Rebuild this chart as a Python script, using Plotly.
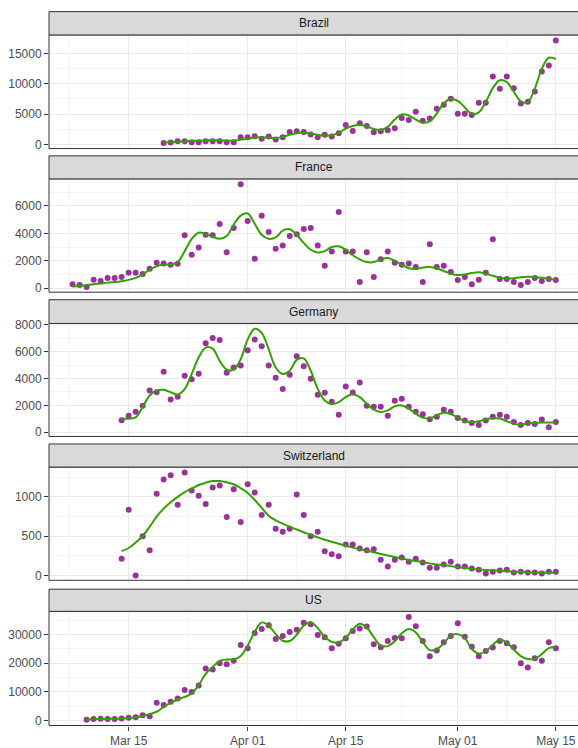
import pandas as pd
import plotly.graph_objects as go

# ---------------- data ----------------
countries = ["Brazil", "France", "Germany", "Switzerland", "US"]
start_dates = ["2020-03-20", "2020-03-07", "2020-03-14", "2020-03-14", "2020-03-09"]

brazil_cases = [220, 330, 545, 545, 380, 380, 545, 545, 545, 380, 380, 1200,
                1200, 1360, 930, 1300, 820, 1200, 2070, 2180, 2070, 1635, 1200, 1580, 1300, 1850,
                3215, 2235, 3490, 3050, 2015, 2180, 2345, 2670, 4360, 4030, 5400, 3925, 4300, 5890, 6540, 7520,
                5070, 5070, 4850, 6870, 6870, 11230, 9210, 11230, 9265, 6760, 7030, 8720, 12045, 13025, 17170]
brazil_smooth = [300, 380, 450, 520, 580, 620, 680, 700, 680, 620, 640, 800,
                 950, 1100, 1200, 1100, 1050, 1250, 1600, 1850, 1950, 1800, 1600, 1450, 1500, 1900,
                 2600, 3050, 3200, 2950, 2550, 2400, 2900, 4100, 4950, 4800, 4100, 3600, 3800, 5100, 6800, 7500,
                 7200, 6100, 5050, 5300, 7000, 9300, 10600, 10300, 8700, 7100, 7000, 9200, 12500, 14300, 14100]

france_cases = [290, 220, 75, 610, 510, 730, 730, 805, 1120, 1120, 1025, 1415, 1855, 1805, 1710, 1780,
                3855, 2440, 2975, 3900, 3855, 4685, 2610, 4390, 7580,
                4900, 2150, 5290, 4100, 2880, 3120, 3800, 3930, 4320, 4390, 3120, 1630, 2680, 5560, 2680,
                2680, 440, 2610, 805, 2100, 2680, 1855, 1710, 1805, 1540, 440, 3195, 1540, 1630, 1170,
                585, 805, 290, 610, 1120, 3560, 660, 660, 440, 220, 440, 730, 510, 660, 585]
france_smooth = [120, 150, 220, 280, 340, 400, 440, 500, 600, 750, 1000, 1350, 1600, 1720, 1720, 1900,
                 2700, 3600, 4050, 3950, 3750, 3600, 3800, 4650, 5300,
                 5450, 4700, 3900, 3600, 3700, 4200, 4300, 3900, 3300, 2800, 2600, 2700, 3000, 3050, 2800,
                 2400, 2100, 1900, 1900, 2100, 2200, 2000, 1700, 1450, 1400, 1500, 1550, 1450, 1250, 1050,
                 950, 1000, 1100, 1150, 1050, 900, 750, 700, 720, 800, 830, 800, 750, 680, 600]

germany_cases = [885, 1230, 1525, 1970, 3100, 2975, 4500, 2435, 2630, 4205, 3935, 4355, 6620, 7010, 6860,
                 4430, 4820, 4970,
                 6100, 6910, 6400, 4970, 4060, 3220, 4280, 5660, 4900, 3985, 2780, 2930, 2265, 1300, 3395,
                 2950, 3690, 1970, 1895, 1895, 1230, 2340, 2485, 1895, 1525, 1330, 960, 1155, 1670, 1525,
                 1060, 860, 690, 540, 860, 1155, 1300, 1155, 765, 540, 690, 615, 935, 370, 765]
germany_smooth = [1000, 1000, 1100, 1870, 2730, 3100, 3150, 2975, 2800, 3200, 4330, 5560, 6300, 6220, 5310,
                  4650, 4650, 5440,
                  6910, 7700, 7400, 6170, 4820, 4330, 4575, 5390, 5490, 4575, 3220, 2360, 2090, 2240, 2610,
                  2830, 2610, 2115, 1670, 1500, 1620, 1920, 1990, 1750, 1380, 1080, 1010, 1255, 1450, 1350,
                  1080, 810, 760, 810, 960, 1030, 1010, 810, 615, 565, 640, 690, 715, 715, 715]

switzerland_cases = [215, 835, 0, 500, 320, 1040, 1220, 1275, 900, 1310, 1080, 1015, 910, 1120, 1145,
                     745, 1095, 680,
                     1160, 1055, 770, 900, 595, 555, 595, 1030, 770, 500, 555, 310, 270, 245, 395,
                     395, 345, 320, 335, 200, 115, 200, 230, 175, 215, 165, 100, 100, 140, 175,
                     115, 115, 90, 75, 25, 50, 65, 75, 40, 50, 40, 40, 25, 50, 50]
switzerland_smooth = [310, 350, 420, 500, 620, 750, 850, 930, 1000, 1060, 1105, 1150, 1180, 1200, 1200,
                      1185, 1160, 1110,
                      1050, 960, 860, 760, 700, 660, 620, 585, 550, 515, 485, 455, 430, 405, 380,
                      355, 335, 315, 295, 275, 255, 235, 215, 200, 185, 170, 155, 140, 130, 120,
                      105, 95, 85, 78, 72, 66, 60, 55, 50, 46, 42, 40, 38, 36, 35]

us_cases = [200, 450, 550, 500, 450, 600, 900, 1100, 1800, 1390, 6140, 5330, 6485, 7640, 10650, 9960,
            12160, 18180, 17830, 20030, 19690, 20840, 26400,
            25240, 30570, 31960, 33350, 28490, 29530, 30920, 31730, 34160, 33700, 29880, 29070, 25240,
            26870, 28720, 31270, 32190, 32890, 26630, 25590, 27790, 28830, 28720, 36250, 33000, 27790,
            22470, 24430, 27330, 29530,
            34050, 29300, 25820, 22470, 24320, 25480, 27790, 26980, 25590, 20030, 18530, 21770, 20840,
            27330, 25240]
us_smooth = [300, 400, 450, 500, 550, 650, 800, 1000, 1500, 2200, 3000, 4700, 6100, 7300, 8200, 9400,
             12300, 16300, 18700, 20800, 21300, 21300, 22500,
             26200, 31000, 34300, 33200, 30200, 27900, 27800, 30000, 33200, 34400, 32300, 29200, 27500,
             27300, 28900, 31800, 33800, 32500, 29200, 26200, 26000, 27700, 30500, 32000, 30800, 27500,
             24600, 24900, 27000, 29700,
             30200, 28800, 25000, 23400, 24200, 26500, 28200, 27300, 24800, 22500, 21500, 21600, 23200,
             25300, 25700]

cases = [brazil_cases, france_cases, germany_cases, switzerland_cases, us_cases]
smooths = [brazil_smooth, france_smooth, germany_smooth, switzerland_smooth, us_smooth]

x_tick_dates = ["2020-03-15", "2020-04-01", "2020-04-15", "2020-05-01", "2020-05-15"]
x_minor_dates = ["2020-03-06 12:00", "2020-03-23 12:00", "2020-04-08", "2020-04-23", "2020-05-08"]
y_ticks = [[0, 5000, 10000, 15000], [0, 2000, 4000, 6000], [0, 2000, 4000, 6000, 8000],
           [0, 500, 1000], [0, 10000, 20000, 30000]]
y_minor = [[2500, 7500, 12500, 17500], [1000, 3000, 5000, 7000], [1000, 3000, 5000, 7000],
           [250, 750, 1250], [5000, 15000, 25000, 35000]]

# ---------------- layout geometry ----------------
W, H = 578, 748
LEFT = 49
X_RANGE = ["2020-03-03 15:00", "2020-05-18 04:00"]
panel_px = [(30.3, 145.3), (176, 290.7), (322.3, 436.7), (467.7, 582.3), (613.7, 729.3)]
strip_px = [(6.7, 30.3), (152.7, 176), (298.3, 322.3), (444.3, 467.7), (591.3, 613.7)]
y_ranges = [[-680, 18070], [-300, 7980], [-320, 8100], [-60, 1378], [-1830, 38200]]

POINT_COL = "#993399"
LINE_COL = "#33A000"
GRID = "#EBEBEB"
BORDER = "#333333"
FONT = "Liberation Sans, Arial, sans-serif"


def py(p):
    return 1 - p / H


fig = go.Figure()
layout = dict(
    width=W, height=H,
    margin=dict(l=LEFT, r=0, t=0, b=0, pad=0),
    paper_bgcolor="white", plot_bgcolor="white",
    showlegend=False,
    font=dict(family=FONT, size=12, color="#4D4D4D"),
)
shapes = []
annotations = []

for i, name in enumerate(countries):
    k = i + 1
    xa = "x" if k == 1 else f"x{k}"
    ya = "y" if k == 1 else f"y{k}"
    dates = pd.date_range(start_dates[i], periods=len(cases[i]), freq="D")
    fig.add_trace(go.Scatter(x=dates, y=cases[i], mode="markers", xaxis=xa, yaxis=ya,
                             marker=dict(size=6, color=POINT_COL), hoverinfo="skip"))
    fig.add_trace(go.Scatter(x=dates, y=smooths[i], mode="lines", xaxis=xa, yaxis=ya,
                             line=dict(color=LINE_COL, width=2, shape="spline", smoothing=1),
                             hoverinfo="skip"))
    top, bot = panel_px[i]
    last = (i == len(countries) - 1)
    layout[f"xaxis{k}"] = dict(
        domain=[0, 1], anchor=ya, type="date", range=X_RANGE,
        tickmode="array", tickvals=x_tick_dates, tickformat="%b %d",
        showticklabels=last, ticks="outside" if last else "", ticklen=4,
        tickcolor=BORDER, tickwidth=1,
        tickfont=dict(family=FONT, size=12, color="#4D4D4D"),
        showgrid=True, gridcolor=GRID, gridwidth=1,
        minor=dict(tickmode="array", tickvals=x_minor_dates, showgrid=True,
                   gridcolor="#F2F2F2", gridwidth=0.8, ticks=""),
        zeroline=False, showline=False, fixedrange=True,
    )
    layout[f"yaxis{k}"] = dict(
        domain=[py(bot), py(top)], anchor=xa, range=y_ranges[i],
        tickmode="array", tickvals=y_ticks[i], tickformat="d",
        ticks="outside", ticklen=4, tickcolor=BORDER, tickwidth=1,
        tickfont=dict(family=FONT, size=12, color="#4D4D4D"),
        showgrid=True, gridcolor=GRID, gridwidth=1,
        minor=dict(tickmode="array", tickvals=y_minor[i], showgrid=True,
                   gridcolor="#F2F2F2", gridwidth=0.8, ticks=""),
        zeroline=False, showline=False, fixedrange=True,
    )
    # panel border
    shapes.append(dict(type="rect", xref="paper", yref="paper", x0=0, x1=1.02,
                       y0=py(bot), y1=py(top), line=dict(color=BORDER, width=1),
                       fillcolor="rgba(0,0,0,0)", layer="above"))
    # strip
    s_top, s_bot = strip_px[i]
    shapes.append(dict(type="rect", xref="paper", yref="paper", x0=0, x1=1.02,
                       y0=py(s_bot), y1=py(s_top), line=dict(color=BORDER, width=1),
                       fillcolor="#D9D9D9", layer="above"))
    annotations.append(dict(text=name, xref="paper", yref="paper", x=0.5,
                            y=py((s_top + s_bot) / 2), xanchor="center", yanchor="middle",
                            showarrow=False, font=dict(family=FONT, size=12, color="#1A1A1A")))

layout["shapes"] = shapes
layout["annotations"] = annotations
fig.update_layout(**layout)

fig.write_html(
    "out.html",
    config={"displayModeBar": False, "staticPlot": True},
    post_script="document.body.style.margin='0px';document.body.style.overflow='hidden';",
)
